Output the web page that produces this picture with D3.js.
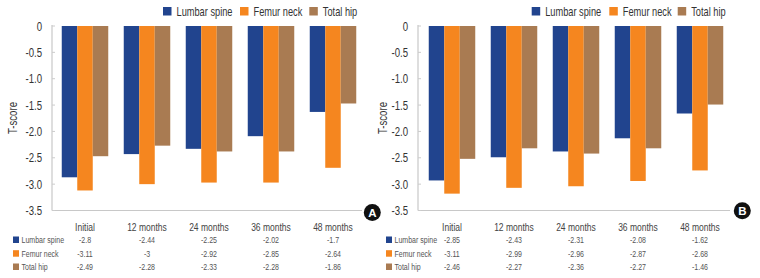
<!DOCTYPE html>
<html><head><meta charset="utf-8">
<script src="https://cdn.jsdelivr.net/npm/d3@7"></script>
<style>
html,body{margin:0;padding:0;background:#fff;}
svg{display:block;}
text{font-family:"Liberation Sans",Arial,sans-serif;}
</style></head><body>
<svg id="c" width="760" height="278"></svg>
<script>
const categories = ["Initial","12 months","24 months","36 months","48 months"];
const seriesNames = ["Lumbar spine","Femur neck","Total hip"];
const colors = ["#21448e","#f5861f","#a97b52"];
const yTicks = [0,-0.5,-1.0,-1.5,-2.0,-2.5,-3.0,-3.5];
// Bar lengths as drawn in the picture
const barsA_lumbar = [-2.87,-2.43,-2.33,-2.09,-1.63];
const barsA_femur  = [-3.12,-3.00,-2.97,-2.97,-2.69];
const barsA_hip    = [-2.47,-2.27,-2.38,-2.38,-1.47];
const barsB_lumbar = [-2.93,-2.49,-2.38,-2.13,-1.66];
const barsB_femur  = [-3.18,-3.07,-3.04,-2.94,-2.74];
const barsB_hip    = [-2.52,-2.32,-2.42,-2.32,-1.49];
// Table labels as printed
const tableA_lumbar = ["-2.8","-2.44","-2.25","-2.02","-1.7"];
const tableA_femur  = ["-3.11","-3","-2.92","-2.85","-2.64"];
const tableA_hip    = ["-2.49","-2.28","-2.33","-2.28","-1.86"];
const tableB_lumbar = ["-2.85","-2.43","-2.31","-2.08","-1.62"];
const tableB_femur  = ["-3.11","-2.99","-2.96","-2.87","-2.68"];
const tableB_hip    = ["-2.46","-2.27","-2.36","-2.27","-1.46"];

const svg = d3.select("#c");
const SX = 0.74;

function txt(g,x,y,s,opt){
  const t = g.append("text")
    .attr("transform",`translate(${x},${y}) ${opt.rot?"rotate(-90) ":""}scale(${SX},1)`)
    .attr("dy","0.35em")
    .attr("text-anchor",opt.anchor||"start")
    .attr("font-size",opt.size)
    .attr("fill",opt.fill||"#333")
    .text(s);
  return t;
}

function panel(cfg){
  const g = svg.append("g");
  const y = d3.scaleLinear().domain([0,-3.5]).range([26,210.5]);
  const x = d3.scaleBand().domain(categories).range(cfg.bandRange).paddingInner(0.25).paddingOuter(0.125);
  const xs = d3.scaleBand().domain(seriesNames).range([0,x.bandwidth()]);
  // axes
  g.append("line").attr("x1",cfg.axisX).attr("x2",cfg.axisX).attr("y1",y(0)-1).attr("y2",y(-3.5)).attr("stroke","#c8c8c8").attr("stroke-width",1.2);
  g.append("line").attr("x1",cfg.axisX).attr("x2",cfg.axisEnd).attr("y1",y(-3.5)).attr("y2",y(-3.5)).attr("stroke","#c8c8c8").attr("stroke-width",1.2);
  yTicks.forEach(t=>{
    g.append("line").attr("x1",cfg.axisX).attr("x2",cfg.axisX+3).attr("y1",y(t)).attr("y2",y(t)).attr("stroke","#ccc");
    txt(g,cfg.axisX-10,y(t),t===0?"0":t.toFixed(1),{anchor:"end",size:13});
  });
  txt(g,cfg.ylabX,118,"T-score",{anchor:"middle",size:13,rot:true});
  // bars
  cfg.bars.forEach((arr,si)=>{
    g.selectAll(null).data(arr).enter().append("rect")
      .attr("x",(d,i)=>x(categories[i])+xs(seriesNames[si]))
      .attr("width",xs.bandwidth())
      .attr("y",y(0)).attr("height",d=>y(d)-y(0))
      .attr("fill",colors[si]);
  });
  // top legend
  cfg.legendX.forEach((lx,i)=>{
    g.append("rect").attr("x",lx).attr("y",7).attr("width",8.5).attr("height",8.5).attr("fill",colors[i]);
    txt(g,lx+13.5,11.5,seriesNames[i],{size:12.5});
  });
  // category labels
  categories.forEach(c=>{
    txt(g,x(c)+x.bandwidth()/2,227,c,{anchor:"middle",size:11.5,fill:"#444"});
  });
  // table
  const rowY=[240,253.7,267];
  cfg.table.forEach((arr,si)=>{
    g.append("rect").attr("x",cfg.tableX).attr("y",rowY[si]-3.5).attr("width",6).attr("height",6.5).attr("fill",colors[si]);
    txt(g,cfg.tableX+8.5,rowY[si],seriesNames[si],{size:9.5,fill:"#555"});
    arr.forEach((v,i)=>{
      txt(g,x(categories[i])+x.bandwidth()/2,rowY[si],v,{anchor:"middle",size:9.5,fill:"#555"});
    });
  });
  // panel marker
  g.append("circle").attr("cx",cfg.markX).attr("cy",cfg.markY).attr("r",8.5).attr("fill","#111");
  g.append("text").attr("x",cfg.markX).attr("y",cfg.markY).attr("dy","0.36em").attr("text-anchor","middle")
    .attr("font-size",11.5).attr("font-weight","bold").attr("fill","#fff").text(cfg.mark);
}

panel({axisX:52,axisEnd:362,bandRange:[54,364],ylabX:12,legendX:[163,240,309.3],tableX:13,
  bars:[barsA_lumbar,barsA_femur,barsA_hip],table:[tableA_lumbar,tableA_femur,tableA_hip],mark:"A",markX:372.3,markY:212.5});
panel({axisX:418,axisEnd:730,bandRange:[421,731],ylabX:382,legendX:[531.7,609.3,677.7],tableX:386,
  bars:[barsB_lumbar,barsB_femur,barsB_hip],table:[tableB_lumbar,tableB_femur,tableB_hip],mark:"B",markX:742.3,markY:210.7});
</script>
</body></html>
